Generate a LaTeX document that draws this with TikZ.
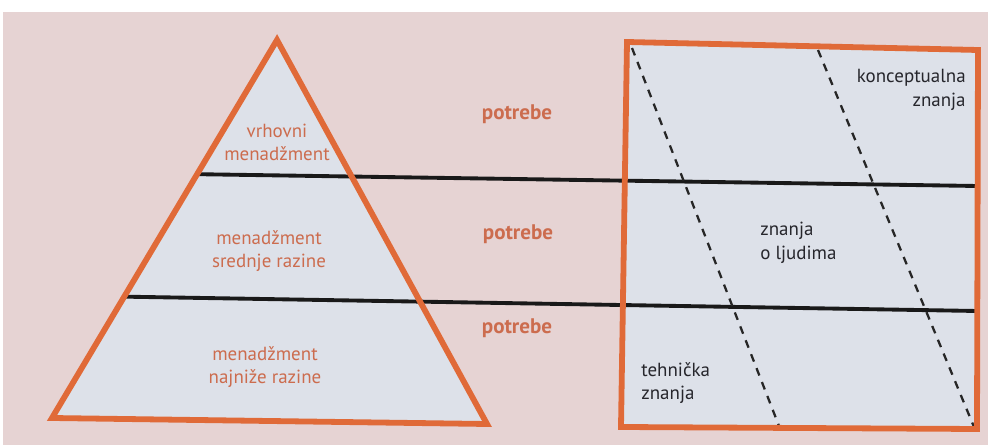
\documentclass[tikz,border=0pt]{standalone}
\usepackage{fontspec}
\setmainfont{PT Sans}
\usetikzlibrary{calc}

\definecolor{pagepink}{RGB}{230,211,211}
\definecolor{paleblue}{RGB}{221,225,233}
\definecolor{frameorange}{RGB}{224,106,56}
\definecolor{levelorange}{RGB}{204,108,78}
\definecolor{knowgray}{RGB}{38,38,44}

\tikzset{
  frame/.style={draw=frameorange, line width=3.3pt, line join=miter, fill=paleblue},
  level/.style={line width=2.2pt, black!90},
  boundary/.style={line width=1.3pt, dash pattern=on 4.5pt off 4pt, black!85},
  leveltext/.style={text=levelorange, align=center, inner sep=0pt, font=\fontsize{10.8}{13}\selectfont},
  needtext/.style={text=levelorange, inner sep=0pt, font=\fontsize{12}{14}\selectfont\bfseries},
  knowtext/.style={text=knowgray, inner sep=0pt, font=\fontsize{10.8}{13.5}\selectfont}
}

\begin{document}
\begin{tikzpicture}[x=0.02cm, y=-0.02cm]
  % Page
  \useasboundingbox (0,0) rectangle (988,445);
  \fill[white] (0,0) rectangle (988,445);
  \fill[pagepink] (3,12) rectangle (988,445);

  % Corners
  \coordinate (apex) at (277,40);
  \coordinate (tl) at (52,418);
  \coordinate (tr) at (487,424);
  \coordinate (rtl) at (627,42);
  \coordinate (rtr) at (978,50);
  \coordinate (rbr) at (977,429);
  \coordinate (rbl) at (621,427);

  % Pyramid and knowledge box
  \fill[paleblue] (apex) -- (tr) -- (tl) -- cycle;
  \fill[paleblue] (rtl) -- (rtr) -- (rbr) -- (rbl) -- cycle;

  % Level lines
  \coordinate (l1a) at ($(apex)!0.355!(tl)$);
  \coordinate (l1b) at (977,186);
  \coordinate (l2a) at ($(apex)!0.679!(tl)$);
  \coordinate (l2b) at (977,311);
  \draw[level] (l1a) -- (l1b);
  \draw[level] (l2a) -- (l2b);

  % Dashed boundaries
  \coordinate (d1a) at (632,48);
  \coordinate (d1b) at (779,426);
  \coordinate (d2a) at (818,50);
  \coordinate (d2b) at (974,427);
  \draw[boundary] (d1a) -- (d1b);
  \draw[boundary] (d2a) -- (d2b);

  % Outlines
  \draw[frame, fill=none] (apex) -- (tr) -- (tl) -- cycle;
  \draw[frame, fill=none] (rtl) -- (rtr) -- (rbr) -- (rbl) -- cycle;

  % Management levels
  \node[leveltext] (top) at (277,142) {vrhovni\\menadžment};
  \node[leveltext] (mid) at (269,251) {menadžment\\srednje razine};
  \node[leveltext] (low) at (265,367) {menadžment\\najniže razine};

  % Needs
  \node[needtext] (need1) at (517,114) {potrebe};
  \node[needtext] (need2) at (518,234) {potrebe};
  \node[needtext] (need3) at (517,328) {potrebe};

  % Kinds of knowledge
  \node[knowtext, align=right, anchor=east] (concept) at (966,90) {konceptualna\\znanja};
  \node[knowtext, align=left, anchor=west] (people) at (760,243) {znanja\\o ljudima};
  \node[knowtext, align=left, anchor=west] (tech) at (641,383) {tehnička\\znanja};
\end{tikzpicture}
\end{document}
